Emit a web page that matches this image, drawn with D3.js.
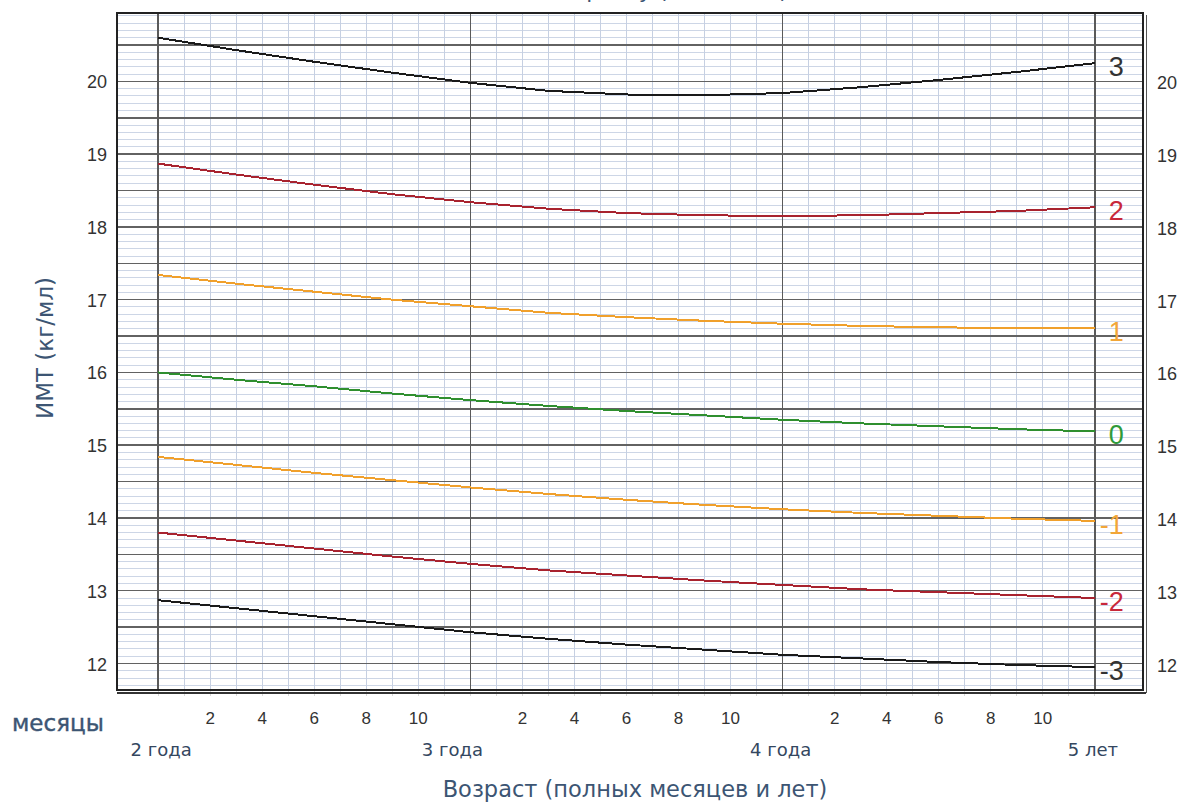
<!DOCTYPE html>
<html>
<head>
<meta charset="utf-8">
<script src="https://cdn.jsdelivr.net/npm/d3@7"></script>
<style>
  html, body { margin: 0; padding: 0; background: #fff; }
  svg { display: block; }
</style>
</head>
<body>
<svg id="chart" width="1183" height="806"></svg>
<script>
// BMI-for-age z-score curves, boys 2 to 5 years (age in months)
const months = [24, 27, 30, 33, 36, 39, 42, 45, 48, 51, 54, 57, 60];
const sdPlus3  = [20.60, 20.43, 20.27, 20.12, 19.98, 19.87, 19.82, 19.81, 19.84, 19.92, 20.02, 20.13, 20.25];
const sdPlus2  = [18.87, 18.72, 18.58, 18.45, 18.34, 18.25, 18.19, 18.16, 18.15, 18.16, 18.19, 18.22, 18.27];
const sdPlus1  = [17.34, 17.22, 17.11, 17.00, 16.91, 16.82, 16.76, 16.71, 16.67, 16.64, 16.62, 16.61, 16.61];
const sdZero   = [16.00, 15.90, 15.81, 15.71, 15.62, 15.54, 15.47, 15.41, 15.35, 15.30, 15.26, 15.22, 15.19];
const sdMinus1 = [14.84, 14.73, 14.62, 14.52, 14.42, 14.33, 14.25, 14.18, 14.12, 14.07, 14.03, 13.99, 13.96];
const sdMinus2 = [13.80, 13.69, 13.58, 13.47, 13.37, 13.28, 13.21, 13.14, 13.08, 13.02, 12.98, 12.94, 12.90];
const sdMinus3 = [12.87, 12.76, 12.65, 12.54, 12.43, 12.34, 12.26, 12.19, 12.12, 12.07, 12.02, 11.98, 11.95];

const seriesNames  = ["3", "2", "1", "0", "-1", "-2", "-3"];
const seriesValues = [sdPlus3, sdPlus2, sdPlus1, sdZero, sdMinus1, sdMinus2, sdMinus3];
const seriesColors = ["#1a1a1a", "#a8232f", "#f0a02c", "#2f8f2f", "#f0a02c", "#a8232f", "#1a1a1a"];
const labelColors  = ["#333333", "#c8283a", "#f2a638", "#2e9a3a", "#f2a638", "#c8283a", "#333333"];

const yTicks = [12, 13, 14, 15, 16, 17, 18, 19, 20];
const yearMonths = [24, 36, 48, 60];
const yearLabels = ["2 года", "3 года", "4 года", "5 лет"];
const yearLabelShift = [3, -18, -2, -2];
const monthTicks = [2, 4, 6, 8, 10];

const svg = d3.select("#chart");

const x = d3.scaleLinear().domain([22.42, 61.85]).range([117, 1143]);
const y = d3.scaleLinear().domain([11.636, 20.94]).range([690, 13]);

const x0 = x.range()[0], x1 = x.range()[1];
const yTop = y.range()[1], yBot = y.range()[0];

// plot background
svg.append("rect")
  .attr("x", x0).attr("y", yTop)
  .attr("width", x1 - x0).attr("height", yBot - yTop)
  .attr("fill", "#ffffff");

const grid = svg.append("g").attr("shape-rendering", "crispEdges");

// minor horizontal lines every 0.1
const tenths = d3.range(117, 210).map(i => i / 10);
grid.selectAll("line.hmin")
  .data(tenths.filter(v => Math.round(v * 10) % 5 !== 0))
  .join("line")
  .attr("x1", x0).attr("x2", x1)
  .attr("y1", d => y(d)).attr("y2", d => y(d))
  .attr("stroke", "#cdd6e6").attr("stroke-width", 1);

// minor vertical lines every month
const monthGrid = d3.range(25, 60).filter(m => m % 12 !== 0);
grid.selectAll("line.vmin")
  .data(monthGrid)
  .join("line")
  .attr("x1", d => x(d)).attr("x2", d => x(d))
  .attr("y1", yTop).attr("y2", yBot)
  .attr("stroke", "#c6d0e2").attr("stroke-width", 1);

// major horizontal lines every 0.5
grid.selectAll("line.hmaj")
  .data(tenths.filter(v => Math.round(v * 10) % 5 === 0))
  .join("line")
  .attr("x1", x0).attr("x2", x1)
  .attr("y1", d => y(d)).attr("y2", d => y(d))
  .attr("stroke", "#626262").attr("stroke-width", 1.5);

// major vertical lines at whole years
grid.selectAll("line.vmaj")
  .data(yearMonths)
  .join("line")
  .attr("x1", d => x(d)).attr("x2", d => x(d))
  .attr("y1", yTop).attr("y2", yBot)
  .attr("stroke", "#5a5a5a").attr("stroke-width", 1.5);

// small ticks under the frame
grid.selectAll("line.tick")
  .data(d3.range(24, 61))
  .join("line")
  .attr("x1", d => x(d)).attr("x2", d => x(d))
  .attr("y1", yBot + 1).attr("y2", yBot + 6)
  .attr("stroke", "#d8d8d8").attr("stroke-width", 1);

// frame with a shadowed lower and right edge
const frame = svg.append("g").attr("shape-rendering", "crispEdges");
frame.append("rect")
  .attr("x", x0).attr("y", yTop)
  .attr("width", x1 - x0).attr("height", yBot - yTop)
  .attr("fill", "none").attr("stroke", "#222").attr("stroke-width", 2);
frame.append("line")
  .attr("x1", x0).attr("x2", x1 + 3)
  .attr("y1", yBot + 3).attr("y2", yBot + 3)
  .attr("stroke", "#333").attr("stroke-width", 2);
frame.append("line")
  .attr("x1", x1 + 3).attr("x2", x1 + 3)
  .attr("y1", yTop + 2).attr("y2", yBot + 3)
  .attr("stroke", "#555").attr("stroke-width", 1);

// curves
const line = d3.line()
  .x((d, i) => x(months[i]))
  .y(d => y(d));

svg.append("g")
  .selectAll("path")
  .data(seriesValues)
  .join("path")
  .attr("d", d => line(d))
  .attr("fill", "none")
  .attr("stroke", (d, i) => seriesColors[i])
  .attr("stroke-width", 2)
  .attr("shape-rendering", "crispEdges");

// curve labels at the right end
svg.append("g")
  .selectAll("text")
  .data(seriesValues)
  .join("text")
  .attr("x", x(60) + 29)
  .attr("y", d => y(d[d.length - 1]) + 13)
  .attr("text-anchor", "end")
  .attr("font-family", "Liberation Sans, Arial, sans-serif")
  .attr("font-size", 27)
  .attr("fill", (d, i) => labelColors[i])
  .text((d, i) => seriesNames[i]);

// y tick labels on both sides
const tickFont = "Liberation Sans, Arial, sans-serif";
svg.append("g")
  .selectAll("text")
  .data(yTicks)
  .join("text")
  .attr("x", 107)
  .attr("y", d => y(d) + 7)
  .attr("text-anchor", "end")
  .attr("font-family", tickFont)
  .attr("font-size", 18)
  .attr("fill", "#333")
  .text(d => d);

svg.append("g")
  .selectAll("text")
  .data(yTicks)
  .join("text")
  .attr("x", 1157)
  .attr("y", d => y(d) + 8)
  .attr("text-anchor", "start")
  .attr("font-family", tickFont)
  .attr("font-size", 18)
  .attr("fill", "#333")
  .text(d => d);

// month numbers within each year
const monthLabelData = [];
[24, 36, 48].forEach(base => monthTicks.forEach(m => monthLabelData.push({ m: base + m, label: m })));
svg.append("g")
  .selectAll("text")
  .data(monthLabelData)
  .join("text")
  .attr("x", d => x(d.m))
  .attr("y", 724)
  .attr("text-anchor", "middle")
  .attr("font-family", tickFont)
  .attr("font-size", 17)
  .attr("fill", "#333")
  .text(d => d.label);

// year labels
svg.append("g")
  .selectAll("text")
  .data(yearMonths)
  .join("text")
  .attr("x", (d, i) => x(d) + yearLabelShift[i])
  .attr("y", 756)
  .attr("text-anchor", "middle")
  .attr("font-family", "DejaVu Sans, sans-serif")
  .attr("font-size", 18)
  .attr("fill", "#34475f")
  .text((d, i) => yearLabels[i]);

// axis titles
svg.append("text")
  .attr("x", 12).attr("y", 731)
  .attr("font-family", "DejaVu Sans, sans-serif")
  .attr("font-size", 23)
  .attr("fill", "#3c5573")
  .attr("stroke", "#3c5573")
  .attr("stroke-width", 0.4)
  .text("месяцы");

svg.append("text")
  .attr("x", (x0 + x1) / 2 + 5).attr("y", 797)
  .attr("text-anchor", "middle")
  .attr("font-family", "DejaVu Sans, sans-serif")
  .attr("font-size", 22.5)
  .attr("fill", "#3c5573")
  .text("Возраст (полных месяцев и лет)");

svg.append("text")
  .attr("transform", "translate(53,348) rotate(-90)")
  .attr("text-anchor", "middle")
  .attr("font-family", "DejaVu Sans, sans-serif")
  .attr("font-size", 23)
  .attr("fill", "#3c5573")
  .text("ИМТ (кг/мл)");

// chart title, sitting at the very top edge
svg.append("text")
  .attr("x", (x0 + x1) / 2).attr("y", -2)
  .attr("text-anchor", "middle")
  .attr("font-family", "DejaVu Sans, sans-serif")
  .attr("font-size", 22)
  .attr("fill", "#3c5573")
  .text("ИМТ к возрасту (мальчики)");
</script>
</body>
</html>
